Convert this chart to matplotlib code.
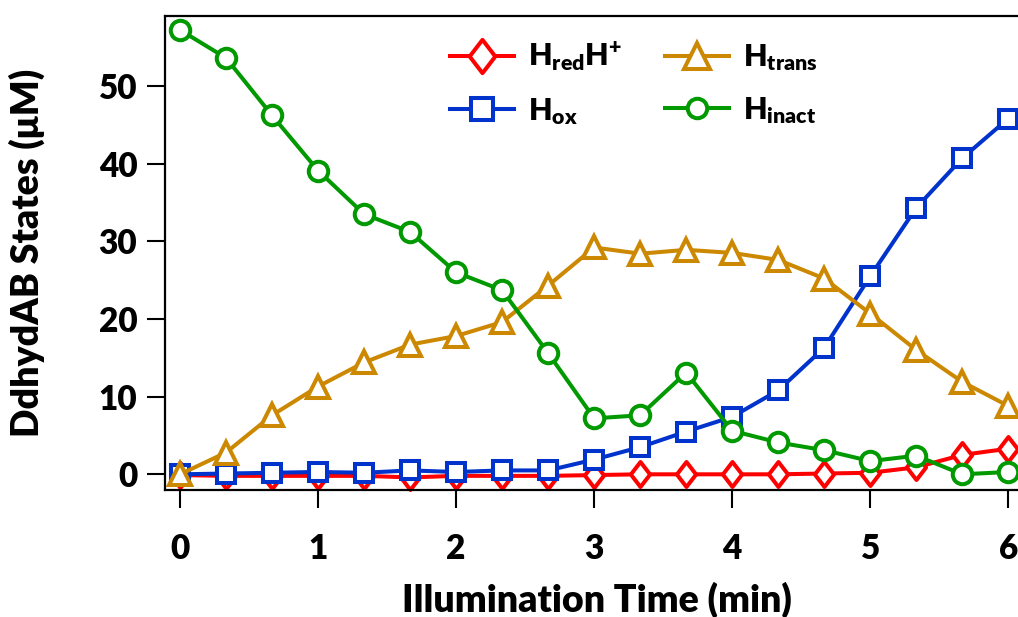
import matplotlib
matplotlib.use("Agg")
import matplotlib.pyplot as plt
from matplotlib.path import Path
import numpy as np

WEIGHT = 'heavy'
plt.rcParams['font.family'] = ['Lato', 'DejaVu Sans']
plt.rcParams['font.weight'] = WEIGHT
plt.rcParams['mathtext.fontset'] = 'custom'
plt.rcParams['mathtext.rm'] = 'Lato:' + WEIGHT
plt.rcParams['mathtext.it'] = 'Lato:' + WEIGHT
plt.rcParams['mathtext.bf'] = 'Lato:' + WEIGHT

time_min = [0, 1/3, 2/3, 1, 4/3, 5/3, 2, 7/3, 8/3, 3, 10/3, 11/3, 4, 13/3, 14/3, 5, 16/3, 17/3, 6]
h_red = [-0.1, -0.2, -0.2, -0.2, -0.2, -0.4, -0.2, -0.2, -0.2, -0.1, 0.0, 0.0, 0.0, 0.0, 0.1, 0.2, 0.9, 2.5, 3.3]
h_ox = [0.0, 0.1, 0.2, 0.3, 0.2, 0.5, 0.3, 0.5, 0.5, 1.9, 3.5, 5.5, 7.4, 10.8, 16.3, 25.5, 34.3, 40.7, 45.8]
h_trans = [0.0, 2.8, 7.6, 11.3, 14.4, 16.7, 17.8, 19.6, 24.3, 29.2, 28.4, 28.9, 28.5, 27.6, 25.2, 20.7, 16.0, 11.9, 8.8]
h_inact = [57.2, 53.6, 46.2, 39.1, 33.5, 31.2, 26.0, 23.7, 15.6, 7.2, 7.6, 13.1, 5.6, 4.1, 3.1, 1.7, 2.4, 0.0, 0.3]

labels = [r'$\mathrm{H_{red}H^{+}}$', r'$\mathrm{H_{ox}}$', r'$\mathrm{H_{trans}}$', r'$\mathrm{H_{inact}}$']
colors = ['#FF0000', '#0033CC', '#CC8800', '#009900']

tall_diamond = Path([(0, 1.3), (1, 0), (0, -1.3), (-1, 0), (0, 1.3)],
                    [Path.MOVETO, Path.LINETO, Path.LINETO, Path.LINETO, Path.CLOSEPOLY])

W, H = 1018, 617
fig = plt.figure(figsize=(W/100, H/100), dpi=100)
ax = fig.add_axes([165/W, (H-490)/H, 864/W, (490-16)/H])

lw = 2.9
mew = 2.9
series = [h_red, h_ox, h_trans, h_inact]
markers = [tall_diamond, 's', '^', 'o']
msizes = [18, 12.5, 16, 14]
lines = []
for ys, c, m, ms, lab in zip(series, colors, markers, msizes, labels):
    ln, = ax.plot(time_min, ys, color=c, lw=lw, marker=m, ms=ms, mfc='white',
                  mec=c, mew=mew, label=lab, clip_on=False)
    lines.append(ln)

ax.set_xlim(-0.1087, 6.15)
ax.set_ylim(-2.02, 59.0)
ax.set_xticks([0, 1, 2, 3, 4, 5, 6])
ax.set_yticks([0, 10, 20, 30, 40, 50])

for s in ['left', 'top', 'bottom']:
    ax.spines[s].set_linewidth(1.6)
ax.spines['right'].set_visible(False)

ax.tick_params(axis='both', which='major', direction='out', length=13, width=1.5,
               labelsize=24)
ax.tick_params(axis='x', pad=18)
ax.tick_params(axis='y', pad=7)
for t in ax.get_xticklabels() + ax.get_yticklabels():
    t.set_fontweight(WEIGHT)

ax.set_xlabel('Illumination Time (min)', fontsize=27, fontweight=WEIGHT)
ax.set_ylabel('DdhydAB States (μM)', fontsize=27, fontweight=WEIGHT)
ax.xaxis.set_label_coords(0.5, -0.194)
ax.yaxis.set_label_coords(-0.139, 0.5)

leg = ax.legend(handles=lines, ncol=2, loc='upper left',
                bbox_to_anchor=(450/W, 1 - 40/H), bbox_transform=fig.transFigure,
                frameon=False, fontsize=22, handlelength=2.1, handletextpad=0.45,
                columnspacing=1.4, labelspacing=0.72, borderpad=0, borderaxespad=0)
leg_ms = [24, 16, 19, 14]
for h, ms in zip(leg.legend_handles, leg_ms):
    h.set_markersize(ms)

fig.savefig('out.png', dpi=100)
